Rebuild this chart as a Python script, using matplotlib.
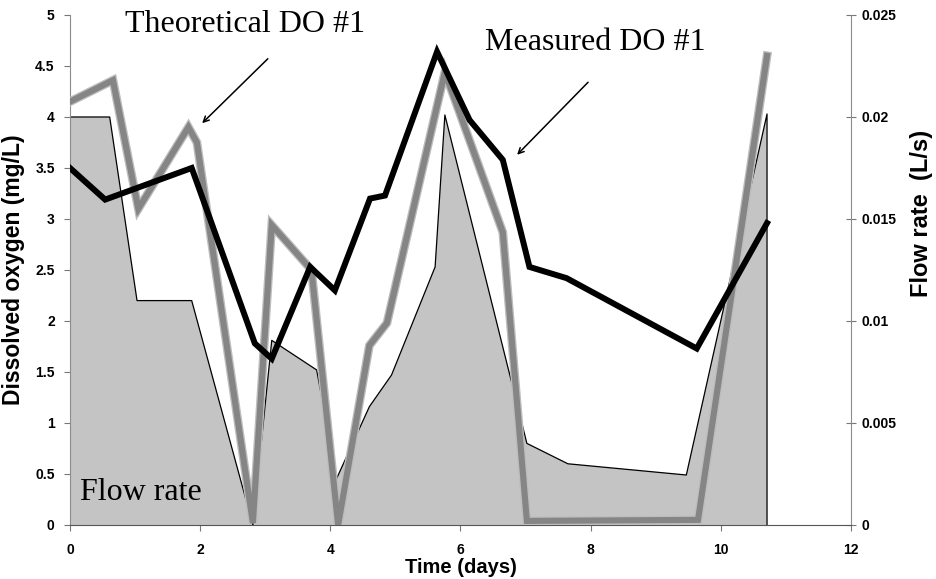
import matplotlib
matplotlib.use("Agg")
import matplotlib.pyplot as plt
from matplotlib.ticker import FormatStrFormatter, MultipleLocator

# flow rate (L/s)
flow_t = [0, 0.61, 1.03, 1.87, 2.81, 3.10, 3.79, 4.10, 4.60, 4.94, 5.61, 5.76, 7.02, 7.65, 9.47, 10.71]
flow_q = [0.020, 0.020, 0.011, 0.011, 0.0, 0.00905, 0.0076, 0.0023, 0.0058, 0.00735,
          0.01265, 0.0201, 0.0040, 0.0030, 0.00245, 0.02015]

# theoretical DO #1 (mg/L)
theo_t = [0, 0.66, 1.05, 1.82, 1.95, 2.81, 3.10, 3.71, 4.12, 4.60, 4.87, 5.76, 6.65, 7.02, 9.65, 10.71]
theo_do = [4.15, 4.36, 3.10, 3.90, 3.75, 0.02, 2.94, 2.50, 0.0, 1.76, 1.98, 4.44, 2.87, 0.04, 0.05, 4.60]

# measured DO #1 (mg/L)
meas_t = [0, 0.54, 1.87, 2.84, 3.10, 3.69, 4.07, 4.61, 4.84, 5.64, 6.14, 6.65, 7.06, 7.63, 9.63, 10.71]
meas_do = [3.50, 3.19, 3.50, 1.78, 1.63, 2.53, 2.30, 3.20, 3.23, 4.64, 3.97, 3.58, 2.53, 2.42, 1.73, 2.96]

plt.rcParams['font.family'] = 'Liberation Sans'
plt.rcParams['font.weight'] = 'bold'

fig = plt.figure(figsize=(9.37, 5.79), dpi=100)
ax = fig.add_axes([0.0747, 0.0933, 0.8335, 0.8808])
ax2 = ax.twinx()
ax.set_zorder(ax2.get_zorder() + 1)
ax.patch.set_visible(False)

# flow rate area on the right axis
ax2.fill_between(flow_t + [flow_t[-1]], flow_q + [0], 0, facecolor='#c4c4c4', edgecolor='none', zorder=1)
ax2.plot(flow_t + [flow_t[-1]], flow_q + [0], color='black', lw=0.9, zorder=2)
ax2.set_ylim(0, 0.025)
ax2.yaxis.set_major_locator(MultipleLocator(0.005))
ax2.yaxis.set_major_formatter(FormatStrFormatter('%g'))

# DO lines on the left axis
ax.plot(theo_t, theo_do, color='#bdbdbd', lw=6.3, solid_joinstyle='miter', zorder=3)
ax.plot(theo_t, theo_do, color='#858585', lw=4.4, solid_joinstyle='miter', zorder=4)
ax.plot(meas_t, meas_do, color='black', lw=4.3, solid_joinstyle='miter', zorder=5)

ax.set_xlim(0, 12)
ax.set_ylim(0, 5)
ax.xaxis.set_major_locator(MultipleLocator(2))
ax.yaxis.set_major_locator(MultipleLocator(0.5))
ax.yaxis.set_major_formatter(FormatStrFormatter('%g'))

for a in (ax, ax2):
    a.spines['top'].set_visible(False)
ax.spines['left'].set_color('#8c8c8c')
ax.spines['bottom'].set_color('#555555')
ax.spines['right'].set_visible(False)
ax2.spines['left'].set_visible(False)
ax2.spines['bottom'].set_visible(False)
ax2.spines['right'].set_color('#8c8c8c')

ax.tick_params(axis='y', direction='out', length=4, width=0.8, color='#777777', pad=7, labelsize=10)
ax.tick_params(axis='x', direction='out', length=4, width=0.8, color='#777777', pad=9, labelsize=10)
ax2.tick_params(axis='y', direction='inout', length=7, width=0.8, color='#777777', pad=4, labelsize=10)

ax.set_xlabel('Time (days)', fontsize=14.5, fontweight='bold', labelpad=1)
ax.set_ylabel('Dissolved oxygen (mg/L)', fontsize=16.5, fontweight='bold')
ax.yaxis.set_label_coords(-0.058, 0.5)
ax2.set_ylabel('Flow rate  (L/s)', fontsize=17, fontweight='bold', rotation=90)
ax2.yaxis.set_label_coords(1.0755, 0.61)

# annotations
ax.text(0.85, 4.83, 'Theoretical DO #1', family='Liberation Serif', fontweight='normal',
        fontsize=23, va='baseline', ha='left')
ax.text(6.37, 4.66, 'Measured DO #1', family='Liberation Serif', fontweight='normal',
        fontsize=23, va='baseline', ha='left')
ax.text(0.15, 0.245, 'Flow rate', family='Liberation Serif', fontweight='normal',
        fontsize=23, va='baseline', ha='left', zorder=6)
ax.annotate('', xy=(2.0, 3.92), xytext=(3.07, 4.59),
            arrowprops=dict(arrowstyle='->', color='black', lw=1.1))
ax.annotate('', xy=(6.84, 3.61), xytext=(7.99, 4.36),
            arrowprops=dict(arrowstyle='->', color='black', lw=1.1))

fig.savefig('out.png', dpi=100)
